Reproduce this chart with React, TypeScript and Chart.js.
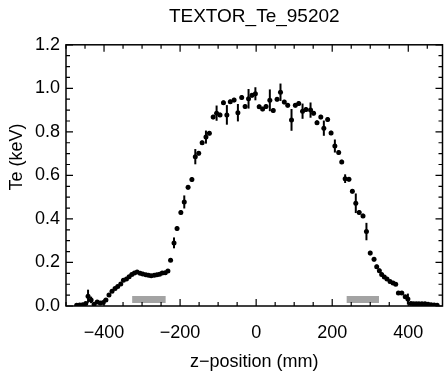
import React, { useEffect, useRef } from "react";
import { Chart, registerables } from "chart.js";

Chart.register(...registerables);

const chartTitle = "TEXTOR_Te_95202";
const xAxisTitle = "z\u2212position (mm)";
const yAxisTitle = "Te (keV)";

// measured electron temperature profile
const zPositions = [
  -472, -464, -456, -448, -442, -434, -426, -418, -410, -402, -395, -387, -379, -371, -364, -356, -349, -341,
  -334, -327, -320, -313, -305, -298, -290, -283, -276, -268, -261, -254, -247, -239, -232, -225, -216, -208,
  -198, -189, -179, -169, -160, -151, -142, -132, -123, -113, -104, -95, -86, -77, -68, -58, -48, -38, -29,
  -20, -11, -2, 8, 17, 26, 36, 45, 55, 64, 74, 83, 93, 103, 112, 122, 131, 143, 151, 160, 170, 178, 188, 197,
  207, 217, 225, 234, 244, 253, 262, 271, 281, 290, 300, 310, 317, 324, 330, 337, 344, 352, 360, 367, 374,
  383, 392, 399, 407, 414, 421, 428, 436, 444, 452, 460, 468, 476,
];
const teValues = [
  0.004, 0.005, 0.006, 0.012, 0.045, 0.028, 0.008, 0.018, 0.014, 0.016, 0.028, 0.05, 0.068, 0.08, 0.09, 0.101,
  0.118, 0.124, 0.134, 0.145, 0.152, 0.156, 0.151, 0.147, 0.144, 0.141, 0.139, 0.141, 0.143, 0.146, 0.152,
  0.153, 0.161, 0.21, 0.29, 0.356, 0.43, 0.478, 0.545, 0.581, 0.686, 0.702, 0.75, 0.776, 0.794, 0.868, 0.886,
  0.878, 0.934, 0.878, 0.938, 0.946, 0.888, 0.958, 0.916, 0.952, 0.968, 0.975, 0.915, 0.905, 0.916, 0.945,
  0.898, 0.95, 0.982, 0.937, 0.922, 0.855, 0.922, 0.93, 0.895, 0.903, 0.9, 0.886, 0.842, 0.868, 0.817, 0.857,
  0.795, 0.735, 0.705, 0.662, 0.585, 0.582, 0.527, 0.472, 0.43, 0.414, 0.342, 0.243, 0.215, 0.18, 0.162,
  0.145, 0.133, 0.124, 0.112, 0.106, 0.1, 0.06, 0.06, 0.043, 0.032, 0.012, 0.01, 0.01, 0.01, 0.01, 0.01,
  0.008, 0.006, 0.005, 0.004,
];
const teErrors = [
  0.004, 0.004, 0.004, 0.006, 0.03, 0.015, 0.006, 0.006, 0.006, 0.006, 0.006, 0.006, 0.006, 0.006, 0.006, 0.006,
  0.006, 0.006, 0.006, 0.006, 0.006, 0.006, 0.006, 0.006, 0.006, 0.006, 0.006, 0.006, 0.006, 0.006, 0.006,
  0.006, 0.006, 0.008, 0.025, 0.01, 0.01, 0.03, 0.01, 0.01, 0.035, 0.01, 0.01, 0.03, 0.01, 0.01, 0.035,
  0.01, 0.01, 0.045, 0.01, 0.01, 0.04, 0.01, 0.01, 0.045, 0.01, 0.03, 0.01, 0.01, 0.01, 0.05,
  0.01, 0.01, 0.04, 0.01, 0.01, 0.05, 0.01, 0.01, 0.035, 0.01, 0.035, 0.01, 0.01, 0.01, 0.035, 0.01,
  0.01, 0.03, 0.01, 0.01, 0.02, 0.01, 0.01, 0.045, 0.01, 0.01, 0.04, 0.01, 0.01, 0.01, 0.01,
  0.008, 0.008, 0.008, 0.008, 0.008, 0.008, 0.008, 0.008, 0.008, 0.025, 0.006, 0.004, 0.004, 0.004, 0.004,
  0.004, 0.004, 0.004, 0.004, 0.004,
];

// shaded limiter regions (z ranges) and their level
const shadedRegionLeft = [-326, -238];
const shadedRegionRight = [238, 323];
const shadedLevel = 0.03;

const xRange = [-500, 490];
const yRange = [0, 1.2];
const xTickValues = [-400, -200, 0, 200, 400];
const yTickValues = [0, 0.2, 0.4, 0.6, 0.8, 1.0, 1.2];
const xMinorStep = 50;
const yMinorStep = 0.05;

const FONT = "'Liberation Sans', Arial, Helvetica, sans-serif";

const idlPlugin = {
  id: "idlFrame",
  beforeDatasetsDraw(chart: any) {
    const { ctx, scales } = chart;
    const x = scales.x;
    const y = scales.y;
    ctx.save();
    ctx.strokeStyle = "#000";
    ctx.lineWidth = 2;
    for (let i = 0; i < zPositions.length; i++) {
      const px = x.getPixelForValue(zPositions[i]);
      const y1 = y.getPixelForValue(teValues[i] - teErrors[i]);
      const y2 = y.getPixelForValue(teValues[i] + teErrors[i]);
      ctx.beginPath();
      ctx.moveTo(px, y1);
      ctx.lineTo(px, y2);
      ctx.stroke();
    }
    ctx.restore();
  },
  afterDraw(chart: any) {
    const { ctx, chartArea, scales } = chart;
    const { left, right, top, bottom } = chartArea;
    const x = scales.x;
    const y = scales.y;
    ctx.save();
    ctx.strokeStyle = "#000";
    ctx.lineWidth = 1.5;
    ctx.strokeRect(left, top, right - left, bottom - top);
    ctx.lineWidth = 1.2;
    const nx = Math.round((xRange[1] - xRange[0]) / xMinorStep);
    for (let k = 0; k <= nx; k++) {
      const v = xRange[0] + k * xMinorStep;
      if (v > xRange[1]) break;
      const px = x.getPixelForValue(v);
      const len = xTickValues.includes(v) ? 7 : 4;
      ctx.beginPath();
      ctx.moveTo(px, bottom);
      ctx.lineTo(px, bottom - len);
      ctx.moveTo(px, top);
      ctx.lineTo(px, top + len);
      ctx.stroke();
    }
    const ny = Math.round((yRange[1] - yRange[0]) / yMinorStep);
    for (let k = 0; k <= ny; k++) {
      const v = yRange[0] + k * yMinorStep;
      const py = y.getPixelForValue(v);
      const major = k % 4 === 0;
      const len = major ? 7 : 4;
      ctx.beginPath();
      ctx.moveTo(left, py);
      ctx.lineTo(left + len, py);
      ctx.moveTo(right, py);
      ctx.lineTo(right - len, py);
      ctx.stroke();
    }
    // y axis title
    ctx.translate(17, 157);
    ctx.rotate(-Math.PI / 2);
    ctx.fillStyle = "#000";
    ctx.font = `18px ${FONT}`;
    ctx.textAlign = "center";
    ctx.textBaseline = "middle";
    ctx.fillText(yAxisTitle, 0, 0);
    ctx.restore();
  },
};

export default function App() {
  const canvasRef = useRef<HTMLCanvasElement | null>(null);

  useEffect(() => {
    if (!canvasRef.current) return;
    const points = zPositions.map((z, i) => ({ x: z, y: teValues[i] }));
    const chart = new Chart(canvasRef.current, {
      type: "scatter",
      data: {
        datasets: [
          {
            type: "line",
            label: "limiter left",
            data: shadedRegionLeft.map((z) => ({ x: z, y: shadedLevel })),
            borderColor: "#a3a3a3",
            borderWidth: 7,
            borderCapStyle: "butt",
            pointRadius: 0,
            fill: false,
          } as any,
          {
            type: "line",
            label: "limiter right",
            data: shadedRegionRight.map((z) => ({ x: z, y: shadedLevel })),
            borderColor: "#a3a3a3",
            borderWidth: 7,
            borderCapStyle: "butt",
            pointRadius: 0,
            fill: false,
          } as any,
          {
            label: "Te",
            data: points,
            backgroundColor: "#000",
            borderColor: "#000",
            borderWidth: 0,
            pointRadius: 2.5,
            pointHoverRadius: 2.5,
          },
        ],
      },
      options: {
        responsive: false,
        animation: false,
        layout: { padding: { left: 0, right: 1, top: 0, bottom: 0 } },
        plugins: {
          legend: { display: false },
          tooltip: { enabled: false },
          title: {
            display: true,
            text: chartTitle,
            fullSize: false,
            color: "#000",
            font: { family: FONT, size: 19, weight: "normal" },
            padding: { top: 5, bottom: 17 },
          },
        },
        scales: {
          x: {
            type: "linear",
            min: xRange[0],
            max: xRange[1],
            afterBuildTicks: (scale: any) => {
              scale.ticks = xTickValues.map((v) => ({ value: v }));
            },
            afterFit: (scale: any) => {
              scale.height = 68;
            },
            grid: { display: false, drawTicks: false },
            border: { display: false },
            ticks: {
              color: "#000",
              font: { family: FONT, size: 18 },
              padding: 16,
              maxRotation: 0,
              autoSkip: false,
              callback: (v: any) => (v < 0 ? "\u2212" + Math.abs(v) : String(v)),
            },
            title: {
              display: true,
              text: xAxisTitle,
              color: "#000",
              font: { family: FONT, size: 18 },
              padding: { top: 0, bottom: 1 },
            },
          },
          y: {
            type: "linear",
            min: yRange[0],
            max: yRange[1],
            afterBuildTicks: (scale: any) => {
              scale.ticks = yTickValues.map((v) => ({ value: v }));
            },
            afterFit: (scale: any) => {
              scale.width = 66;
            },
            grid: { display: false, drawTicks: false },
            border: { display: false },
            ticks: {
              color: "#000",
              font: { family: FONT, size: 18 },
              padding: 6,
              autoSkip: false,
              callback: (v: any) => Number(v).toFixed(1),
            },
          },
        },
      },
      plugins: [idlPlugin],
    });
    return () => chart.destroy();
  }, []);

  return (
    <div style={{ position: "fixed", left: 0, top: 0, width: 445, height: 374, background: "#fff" }}>
      <canvas ref={canvasRef} width={445} height={374} style={{ display: "block" }} />
    </div>
  );
}
